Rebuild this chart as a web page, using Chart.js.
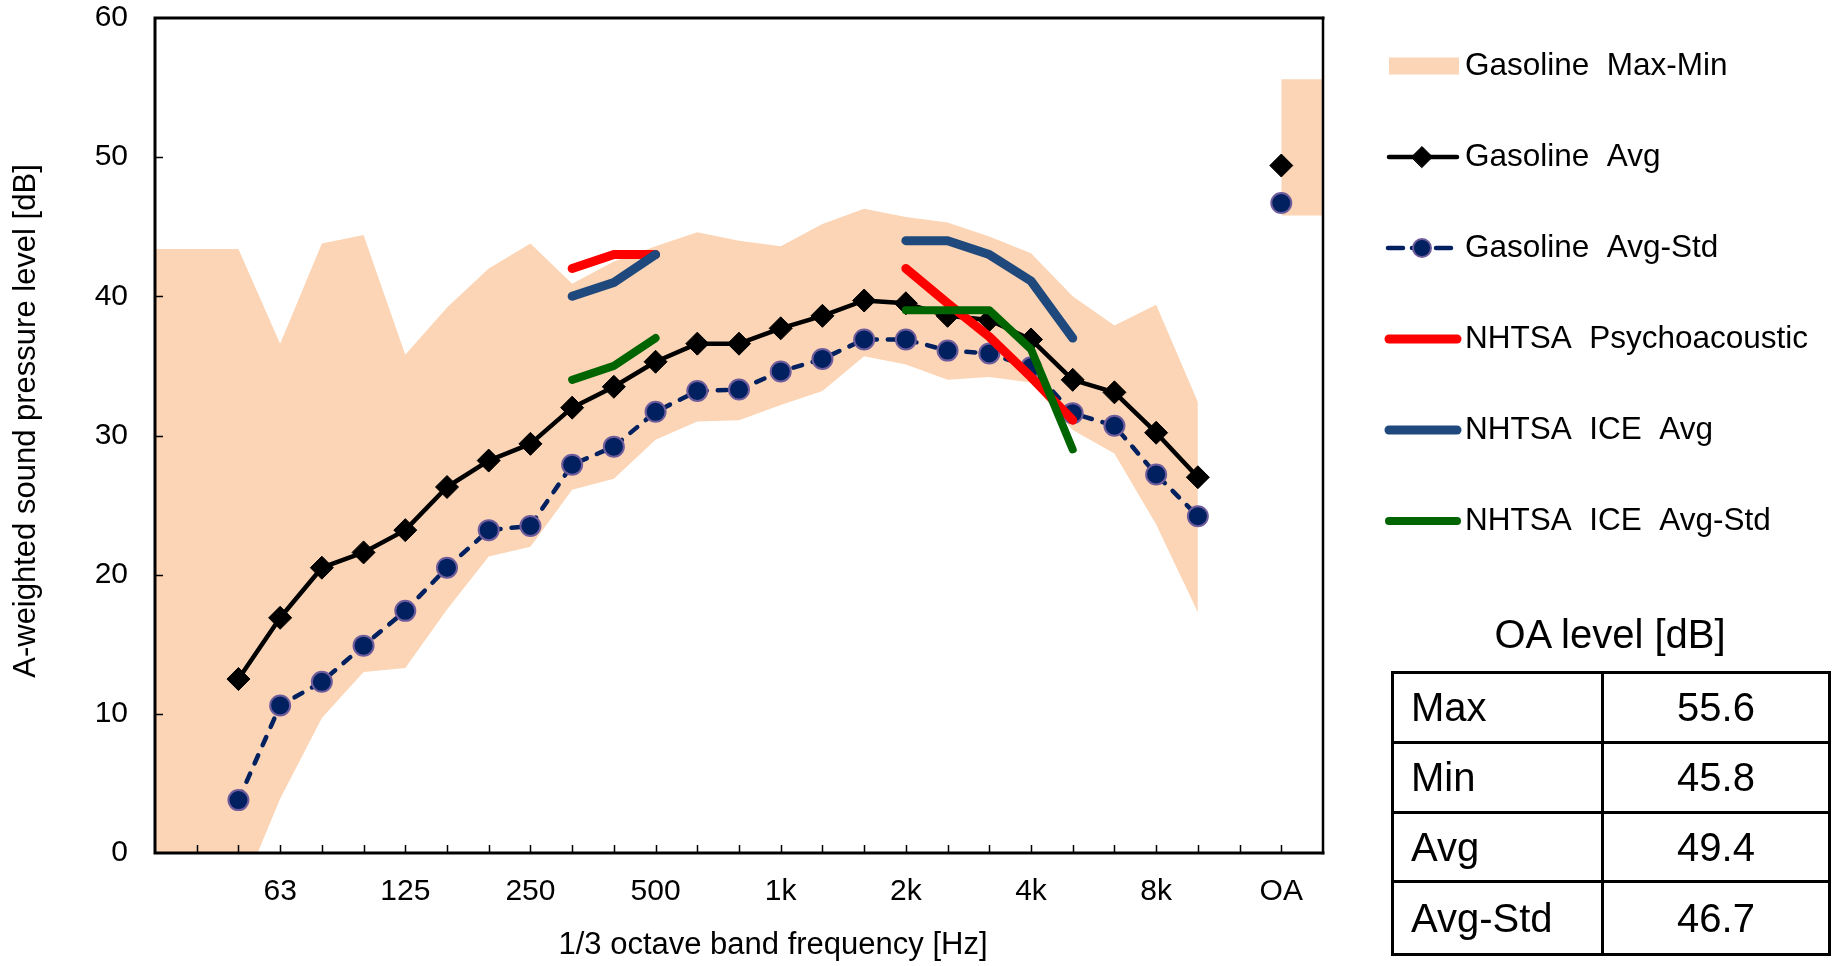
<!DOCTYPE html>
<html>
<head>
<meta charset="utf-8">
<script src="https://cdn.jsdelivr.net/npm/chart.js@4.4.1/dist/chart.umd.min.js"></script>
<style>
  html, body { margin: 0; padding: 0; background: #fff; }
  #wrap { position: relative; width: 1841px; height: 966px; overflow: hidden; }
  #chart { position: absolute; left: 0; top: 0; }
  .oa-title {
    position: absolute; left: 1410px; top: 614px; width: 400px;
    text-align: center; font: 40px/40px "Liberation Sans", Arial, sans-serif; color: #000;
  }
  .oa-grid {
    position: absolute; left: 1391px; top: 671px; width: 440px; height: 285px;
    box-sizing: border-box; border: 3px solid #000;
    display: grid; grid-template-columns: 210px 1fr; grid-template-rows: repeat(4, 1fr);
    font: 40px/40px "Liberation Sans", Arial, sans-serif; color: #000;
  }
  .oa-grid div { display: flex; align-items: center; border-bottom: 3px solid #000; }
  .oa-grid div.last { border-bottom: none; }
  .oa-grid .name { padding-left: 17px; border-right: 3px solid #000; }
  .oa-grid .val { justify-content: center; }
</style>
</head>
<body>
<div id="wrap">
  <canvas id="chart" width="1841" height="966"></canvas>
  <div class="oa-title">OA level [dB]</div>
  <div class="oa-grid" id="oa-grid"></div>
</div>
<script>
// 1/3 octave bands drawn on the category axis (OA gets its own slot after them)
const bands = ["31.5", "40", "50", "63", "80", "100", "125", "160", "200", "250", "315", "400", "500",
  "630", "800", "1k", "1.25k", "1.6k", "2k", "2.5k", "3.15k", "4k", "5k", "6.3k", "8k", "10k", "12.5k"];
const shownTicks = ["63", "125", "250", "500", "1k", "2k", "4k", "8k", "OA"];

const gasMax = [43.4, 43.4, 43.4, 36.6, 43.8, 44.4, 35.8, 39.2, 42.0, 43.8, 40.9, 42.5, 43.6,
  44.6, 44.0, 43.6, 45.2, 46.3, 45.7, 45.3, 44.3, 43.1, 40.0, 37.9, 39.4, 32.4, null];
const gasMin = [0, 0, -3.3, 3.9, 9.7, 13.0, 13.3, 17.5, 21.3, 22.0, 26.1, 26.9, 29.7,
  31.0, 31.1, 32.2, 33.2, 35.7, 35.1, 34.0, 34.2, 33.8, 30.4, 28.7, 23.6, 17.3, null];
const gasAvg = [null, null, 12.5, 16.9, 20.5, 21.6, 23.2, 26.3, 28.2, 29.4, 32.0, 33.5, 35.3,
  36.6, 36.6, 37.7, 38.6, 39.7, 39.5, 38.6, 38.3, 36.9, 34.0, 33.1, 30.2, 27.0, null];
const gasAvgStd = [null, null, 3.8, 10.6, 12.3, 14.9, 17.4, 20.5, 23.2, 23.5, 27.9, 29.2, 31.7,
  33.2, 33.3, 34.6, 35.5, 36.9, 36.9, 36.1, 35.9, 34.9, 31.6, 30.7, 27.2, 24.2, null];
const nhtsaPsycho = [null, null, null, null, null, null, null, null, null, null, 42.0, 43.0, 43.0,
  null, null, null, null, null, 42.0, 39.5, 37.1, 34.2, 31.1, null, null, null, null];
const nhtsaIceAvg = [null, null, null, null, null, null, null, null, null, null, 40.0, 41.0, 43.0,
  null, null, null, null, null, 44.0, 44.0, 43.0, 41.1, 37.0, null, null, null, null];
const nhtsaIceStd = [null, null, null, null, null, null, null, null, null, null, 34.0, 35.0, 37.0,
  null, null, null, null, null, 39.0, 39.0, 39.0, 36.2, 29.0, null, null, null, null];

const oaLabels = ["Max", "Min", "Avg", "Avg-Std"];
const oaValues = [55.6, 45.8, 49.4, 46.7];

const xLabels = [...bands, "OA", ""];
const withOA = (arr, oa, end) => [...arr, oa, end];
const onlyOA = (v) => [...bands.map(() => null), v, v];

const FONT = '"Liberation Sans", Arial, sans-serif';
const PEACH = "#fbd5b5";
const NAVY = "#002060";

// legend rows: dataset index for each entry
const legendItems = [0, 4, 5, 6, 7, 8];

const decorPlugin = {
  id: "decor",
  afterDraw(chart) {
    const { ctx, chartArea: a, scales: { x, y } } = chart;
    ctx.save();

    // inside tick marks
    ctx.strokeStyle = "#000";
    ctx.lineWidth = 1.5;
    ctx.beginPath();
    for (let i = 1; i < xLabels.length - 1; i++) {
      const px = Math.round(x.getPixelForValue(i)) + 0.5;
      ctx.moveTo(px, a.bottom);
      ctx.lineTo(px, a.bottom - 8);
    }
    y.ticks.forEach((t) => {
      if (t.value <= y.min || t.value >= y.max) return;
      const py = Math.round(y.getPixelForValue(t.value)) + 0.5;
      ctx.moveTo(a.left, py);
      ctx.lineTo(a.left + 8, py);
    });
    ctx.stroke();

    // plot frame
    ctx.lineCap = "square";
    ctx.lineWidth = 3;
    ctx.beginPath();
    ctx.moveTo(a.left, a.bottom);
    ctx.lineTo(a.left, a.top);
    ctx.lineTo(a.right, a.top);
    ctx.moveTo(a.left, a.bottom);
    ctx.lineTo(a.right, a.bottom);
    ctx.stroke();
    ctx.lineWidth = 2.5;
    ctx.beginPath();
    ctx.moveTo(a.right, a.top);
    ctx.lineTo(a.right, a.bottom);
    ctx.stroke();

    // axis titles
    ctx.fillStyle = "#000";
    ctx.font = `31px ${FONT}`;
    ctx.textAlign = "center";
    ctx.textBaseline = "middle";
    ctx.fillText("1/3 octave band frequency [Hz]", 773, 945);
    ctx.save();
    ctx.translate(26, 421);
    ctx.rotate(-Math.PI / 2);
    ctx.fillText("A-weighted sound pressure level [dB]", 0, 0);
    ctx.restore();

    // legend on the right
    const ds = chart.data.datasets;
    legendItems.forEach((idx, row) => {
      const d = ds[idx];
      const cy = 66 + row * 91;
      if (d.fill) {
        ctx.fillStyle = d.backgroundColor;
        ctx.fillRect(1389, cy - 8.5, 70, 17);
      } else {
        ctx.strokeStyle = d.borderColor;
        ctx.lineWidth = d.borderWidth;
        ctx.lineCap = d.borderCapStyle || "butt";
        ctx.setLineDash(d.borderDash ? [15, 9] : []);
        ctx.beginPath();
        ctx.moveTo(d.borderDash ? 1388 : 1389, cy);
        ctx.lineTo(d.borderDash ? 1451 : 1457, cy);
        ctx.stroke();
        ctx.setLineDash([]);
        if (d.pointRadius > 0) {
          ctx.fillStyle = d.pointBackgroundColor;
          ctx.strokeStyle = d.pointBorderColor;
          ctx.lineWidth = d.pointBorderWidth;
          Chart.helpers.drawPoint(ctx, {
            pointStyle: d.pointStyle, radius: d.pointRadius - 1, borderWidth: d.pointBorderWidth, rotation: 0,
          }, 1422, cy);
        }
      }
      ctx.fillStyle = "#000";
      ctx.font = `31.5px ${FONT}`;
      ctx.textAlign = "left";
      ctx.textBaseline = "middle";
      ctx.fillText(d.label, 1465, cy);
    });

    ctx.restore();
  },
};

const lineStyle = (color, width) => ({
  borderColor: color,
  backgroundColor: color,
  borderWidth: width,
  borderCapStyle: "round",
  borderJoinStyle: "round",
  pointRadius: 0,
  fill: false,
  tension: 0,
});

new Chart(document.getElementById("chart"), {
  type: "line",
  data: {
    labels: xLabels,
    datasets: [
      {
        label: "Gasoline  Max-Min",
        data: withOA(gasMax, null, null),
        borderWidth: 0, pointRadius: 0, backgroundColor: PEACH, fill: "+1", order: 10,
      },
      { label: "", data: withOA(gasMin, null, null), borderWidth: 0, pointRadius: 0, fill: false, order: 10 },
      {
        label: "OA Max-Min",
        data: onlyOA(oaValues[0]),
        borderWidth: 0, pointRadius: 0, backgroundColor: PEACH, fill: "+1", order: 10,
      },
      { label: "", data: onlyOA(oaValues[1]), borderWidth: 0, pointRadius: 0, fill: false, order: 10 },
      {
        label: "Gasoline  Avg",
        data: withOA(gasAvg, oaValues[2], null),
        borderColor: "#000", backgroundColor: "#000", borderWidth: 4.5,
        borderCapStyle: "round", borderJoinStyle: "round",
        pointStyle: "rectRot", pointRadius: 11.5, pointBackgroundColor: "#000",
        pointBorderColor: "#000", pointBorderWidth: 1, fill: false, order: 3,
      },
      {
        label: "Gasoline  Avg-Std",
        data: withOA(gasAvgStd, oaValues[3], null),
        borderColor: NAVY, backgroundColor: NAVY, borderWidth: 4.5, borderDash: [9, 11],
        borderCapStyle: "round",
        pointStyle: "circle", pointRadius: 10, pointBackgroundColor: NAVY,
        pointBorderColor: "#6e5c9c", pointBorderWidth: 2, fill: false, order: 4,
      },
      { label: "NHTSA  Psychoacoustic", data: withOA(nhtsaPsycho, null, null), ...lineStyle("#ff0000", 9), order: 2 },
      { label: "NHTSA  ICE  Avg", data: withOA(nhtsaIceAvg, null, null), ...lineStyle("#1f497d", 9), order: 1 },
      { label: "NHTSA  ICE  Avg-Std", data: withOA(nhtsaIceStd, null, null), ...lineStyle("#006400", 8), order: 0 },
    ],
  },
  options: {
    responsive: false,
    animation: false,
    devicePixelRatio: 1,
    layout: { autoPadding: false, padding: { left: 0, top: 18, right: 518, bottom: 0 } },
    plugins: {
      legend: { display: false },
      tooltip: { enabled: false },
    },
    scales: {
      x: {
        type: "category",
        offset: false,
        grid: { display: false, drawTicks: false },
        border: { display: false },
        ticks: {
          autoSkip: false,
          maxRotation: 0,
          padding: 21,
          color: "#000",
          font: { family: FONT, size: 30 },
          callback(value, index) {
            const label = xLabels[index];
            return shownTicks.includes(label) ? label : "";
          },
        },
        afterFit(scale) {
          scale.height = 113;
          scale.paddingLeft = 0;
          scale.paddingRight = 0;
        },
      },
      y: {
        min: 0,
        max: 60,
        grid: { display: false, drawTicks: false },
        border: { display: false },
        ticks: {
          stepSize: 10,
          padding: 27,
          color: "#000",
          font: { family: FONT, size: 30 },
        },
        afterFit(scale) {
          scale.width = 155;
          scale.paddingTop = 0;
          scale.paddingBottom = 0;
        },
      },
    },
  },
  plugins: [decorPlugin],
});

// OA level table
const grid = document.getElementById("oa-grid");
oaLabels.forEach((name, i) => {
  const last = i === oaLabels.length - 1 ? " last" : "";
  const a = document.createElement("div");
  a.className = "name" + last;
  a.textContent = name;
  const b = document.createElement("div");
  b.className = "val" + last;
  b.textContent = oaValues[i].toFixed(1);
  grid.appendChild(a);
  grid.appendChild(b);
});
</script>
</body>
</html>
